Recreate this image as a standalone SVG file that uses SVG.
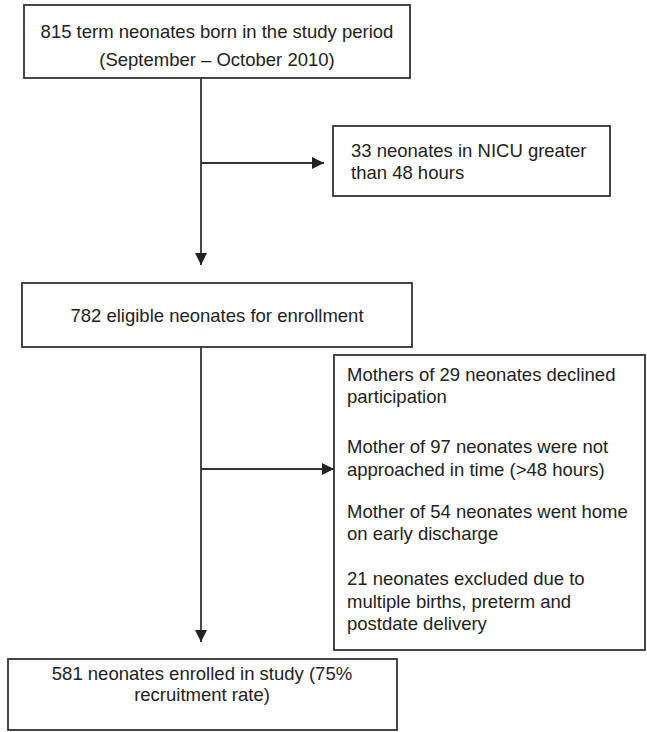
<svg xmlns="http://www.w3.org/2000/svg" width="647" height="732" viewBox="0 0 647 732">
<defs>
<style>
.box{fill:#fff;stroke:#333;stroke-width:1.8}
.t{font-family:"Liberation Sans",Arial,sans-serif;font-size:18.5px;fill:#222}
.c{text-anchor:middle}
.ln{stroke:#333;stroke-width:1.8;fill:none}
</style>
<marker id="ah" markerWidth="12" markerHeight="12" viewBox="0 0 12 12" refX="12" refY="6" orient="auto" markerUnits="userSpaceOnUse">
<path d="M0,0 L12,6 L0,12 Z" fill="#222"/>
</marker>
</defs>
<g id="connectors">
<line class="ln" x1="201" y1="78" x2="201" y2="265" marker-end="url(#ah)"/>
<line class="ln" x1="201" y1="163" x2="324" y2="163" marker-end="url(#ah)"/>
<line class="ln" x1="201" y1="347" x2="201" y2="642" marker-end="url(#ah)"/>
<line class="ln" x1="201" y1="469" x2="334" y2="469" marker-end="url(#ah)"/>
</g>
<g id="n1">
<rect class="box" x="24" y="5" width="386" height="73"/>
<text class="t c" x="217" y="38">815 term neonates born in the study period</text>
<text class="t c" x="217" y="66">(September – October 2010)</text>
</g>
<g id="n2">
<rect class="box" x="333" y="126" width="277" height="70"/>
<text class="t" x="351" y="157">33 neonates in NICU greater</text>
<text class="t" x="351" y="179">than 48 hours</text>
</g>
<g id="n3">
<rect class="box" x="22" y="283" width="390" height="64"/>
<text class="t c" x="217" y="322">782 eligible neonates for enrollment</text>
</g>
<g id="n4">
<rect class="box" x="334" y="355" width="311" height="295"/>
<text class="t" x="347" y="381">Mothers of 29 neonates declined</text>
<text class="t" x="347" y="403">participation</text>
<text class="t" x="347" y="453">Mother of 97 neonates were not</text>
<text class="t" x="347" y="476">approached in time (&gt;48 hours)</text>
<text class="t" x="347" y="518">Mother of 54 neonates went home</text>
<text class="t" x="347" y="540">on early discharge</text>
<text class="t" x="347" y="585">21 neonates excluded due to</text>
<text class="t" x="347" y="608">multiple births, preterm and</text>
<text class="t" x="347" y="630">postdate delivery</text>
</g>
<g id="n5">
<rect class="box" x="8" y="659" width="389" height="71"/>
<text class="t c" x="202" y="680">581 neonates enrolled in study (75%</text>
<text class="t c" x="202" y="701">recruitment rate)</text>
</g>
</svg>
